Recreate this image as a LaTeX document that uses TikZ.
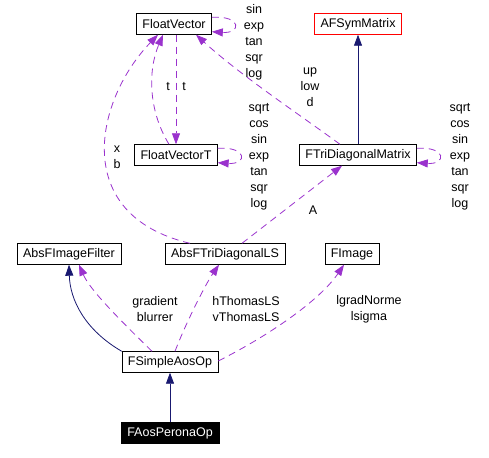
\documentclass[tikz,border=0pt]{standalone}
\usepackage{fontspec}
\setmainfont{Liberation Sans}
\usetikzlibrary{arrows.meta}
\definecolor{inhcol}{RGB}{25,25,112}
\definecolor{usecol}{RGB}{154,50,205}
\tikzset{
	cls/.style = {draw, rectangle, minimum height = 21pt, inner xsep = 6pt, inner ysep = 0pt, font = \fontsize{12.5}{16}\selectfont},
	inh/.style = {draw = inhcol, line width = 0.8pt, -{Triangle[length = 11pt, width = 8pt]}},
	uses/.style = {draw = usecol, line width = 0.8pt, dash pattern = on 7pt off 5pt, -{Triangle[length = 11pt, width = 8pt]}},
	lbl/.style = {align = center, inner sep = 0pt, font = \fontsize{12.5}{16}\selectfont}
}
\begin{document}
\begin{tikzpicture}[x = 1pt, y = -1pt]
						\useasboundingbox (0, 0) rectangle (489, 457);

						\node [cls] (fv) at (174, 24) {FloatVector};
						\node [cls, draw = red] (afs) at (358, 24) {AFSymMatrix};
						\node [cls] (fvt) at (176, 155) {FloatVectorT};
						\node [cls] (ftm) at (358, 155) {FTriDiagonalMatrix};
						\node [cls] (aif) at (69, 254) {AbsFImageFilter};
						\node [cls] (als) at (225, 254) {AbsFTriDiagonalLS};
						\node [cls] (fimg) at (352, 254) {FImage};
						\node [cls] (fso) at (170, 362) {FSimpleAosOp};
						\node [cls, fill = black, text = white] (fap) at (170, 433) {FAosPeronaOp};

						\draw [inh] (fap) -- (fso);
						\draw [inh] (ftm) -- (afs);
						\draw [inh] (fso.north west) .. controls (85, 330) and (70, 300) .. (aif.south);

						\draw [uses] ([yshift = -4pt] fv.north east) .. controls +(30, -2) and +(30, 2) .. ([yshift = 3pt] fv.south east);
						\draw [uses] ([yshift = -4pt] fvt.north east) .. controls +(30, -2) and +(30, 2) .. ([yshift = 3pt] fvt.south east);
						\draw [uses] ([yshift = -4pt] ftm.north east) .. controls +(30, -2) and +(30, 2) .. ([yshift = 3pt] ftm.south east);

						\draw [uses] (fv.south -| fvt.north) -- (fvt.north);
						\draw [uses] ([xshift = -7pt] fvt.north) .. controls (148, 110) and (148, 70) .. ([xshift = -11pt] fv.south);
						\draw [uses] ([xshift = -35pt] als.north) .. controls (70, 215) and (95, 100) .. ([xshift = -16pt] fv.south);
						\draw [uses] ([xshift = -18pt] ftm.north) .. controls (300, 115) and (240, 75) .. ([xshift = 22pt] fv.south);
						\draw [uses] ([xshift = 17pt] als.north) -- ([xshift = -16pt] ftm.south);

						\draw [uses] ([xshift = -18pt] fso.north) .. controls (120, 320) and (90, 290) .. ([xshift = 10pt] aif.south);
						\draw [uses] ([xshift = 5pt] fso.north) .. controls (185, 325) and (205, 285) .. ([xshift = -6pt] als.south);
						\draw [uses] ([yshift = 1pt] fso.east) .. controls (270, 335) and (320, 300) .. ([xshift = -8pt] fimg.south);

						\node [lbl] (lfv) at (254, 42) {sin\\exp\\tan\\sqr\\log};
						\node [lbl] (lfvt) at (259, 157) {sqrt\\cos\\sin\\exp\\tan\\sqr\\log};
						\node [lbl] (lftm) at (460, 157) {sqrt\\cos\\sin\\exp\\tan\\sqr\\log};
						\node [lbl] (lt1) at (168, 87) {t};
						\node [lbl] (lt2) at (184, 87) {t};
						\node [lbl] (lxb) at (117, 157) {x\\b};
						\node [lbl] (lup) at (310, 87) {up\\low\\d};
						\node [lbl] (la) at (313, 210) {A};
						\node [lbl] (lgr) at (155, 309) {gradient\\blurrer};
						\node [lbl] (lth) at (246, 309) {hThomasLS\\vThomasLS};
						\node [lbl] (lgn) at (369, 309) {lgradNorme\\lsigma};
					\end{tikzpicture}
\end{document}
